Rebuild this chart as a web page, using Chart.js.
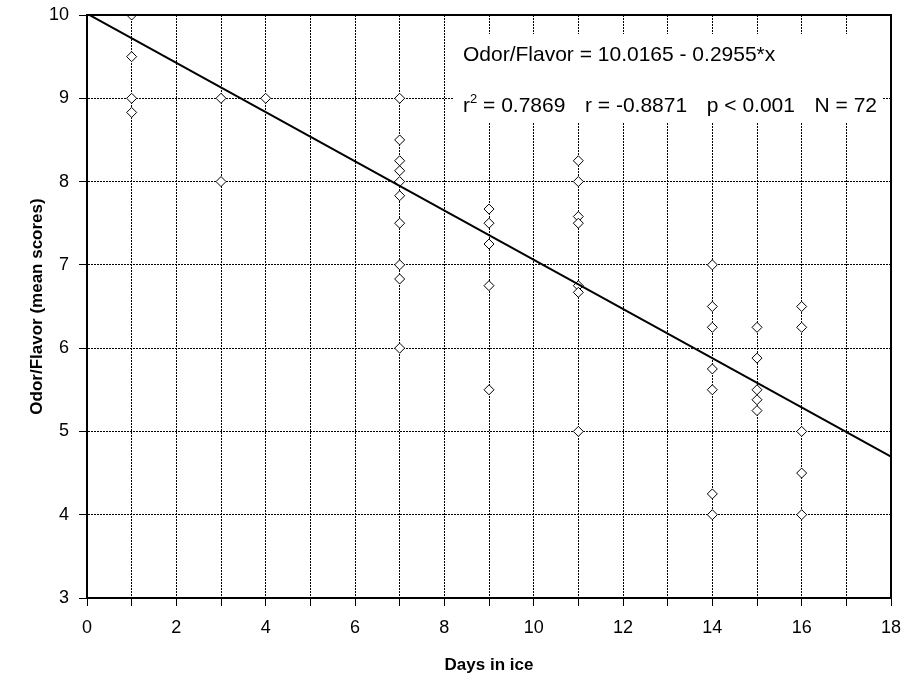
<!DOCTYPE html>
<html>
<head>
<meta charset="utf-8">
<script src="https://cdn.jsdelivr.net/npm/chart.js@4"></script>
<style>
  html, body { margin: 0; padding: 0; background: #fff; }
  #wrap { width: 904px; height: 677px; }
</style>
</head>
<body>
<div id="wrap"><canvas id="odor-chart" width="904" height="677"></canvas></div>
<script>
// scores, one entry per visible diamond
const days   = [1, 1, 1, 1,
                3, 3,
                4,
                7, 7, 7, 7, 7, 7, 7, 7, 7, 7,
                9, 9, 9, 9, 9,
                11, 11, 11, 11, 11, 11, 11,
                14, 14, 14, 14, 14, 14, 14,
                15, 15, 15, 15, 15,
                16, 16, 16, 16, 16];
const scores = [10, 9.5, 9, 8.83,
                9, 8,
                9,
                9, 8.5, 8.25, 8.13, 8, 7.83, 7.5, 7, 6.83, 6,
                7.67, 7.5, 7.25, 6.75, 5.5,
                8.25, 8, 7.58, 7.5, 6.75, 6.67, 5,
                7, 6.5, 6.25, 5.75, 5.5, 4.25, 4,
                6.25, 5.88, 5.5, 5.38, 5.25,
                6.5, 6.25, 5, 4.5, 4];

// regression line end points (x = 0 and x = 18)
const fitDays = [0, 18];
const fitScores = [10.0165, 4.6975];

const equationText = 'Odor/Flavor = 10.0165 - 0.2955*x';
const statTexts = ['= 0.7869', 'r = -0.8871', 'p < 0.001', 'N = 72'];

const FONT = '"Liberation Sans", Arial, Helvetica, sans-serif';

const frame = {
    id: 'frame',
    afterDatasetsDraw(chart) {
        const { ctx, chartArea: a } = chart;
        ctx.save();
        ctx.strokeStyle = '#000';
        ctx.lineWidth = 2;
        ctx.beginPath();
        ctx.moveTo(a.left, a.top);
        ctx.lineTo(a.right, a.top);
        ctx.lineTo(a.right, a.bottom);
        ctx.stroke();
        ctx.restore();
    }
};

const statsBox = {
    id: 'statsBox',
    beforeDatasetsDraw(chart) {
        const ctx = chart.ctx;
        const x0 = 463, x1 = 877;
        ctx.save();
        ctx.fillStyle = '#fff';
        ctx.fillRect(453, 34, 429, 88);
        ctx.fillStyle = '#000';
        ctx.textBaseline = 'middle';
        ctx.font = '21px ' + FONT;
        ctx.fillText(equationText, x0, 55);
        // r squared with a small raised 2, then the other stats spread evenly
        const rw = ctx.measureText('r').width;
        ctx.font = '13px ' + FONT;
        const sw = ctx.measureText('2').width;
        ctx.font = '21px ' + FONT;
        const first = ' ' + statTexts[0];
        const widths = [rw + sw + ctx.measureText(first).width]
            .concat(statTexts.slice(1).map(t => ctx.measureText(t).width));
        const gap = (x1 - x0 - widths.reduce((a, b) => a + b, 0)) / (widths.length - 1);
        ctx.fillText('r', x0, 106);
        ctx.font = '13px ' + FONT;
        ctx.fillText('2', x0 + rw, 99);
        ctx.font = '21px ' + FONT;
        ctx.fillText(first, x0 + rw + sw, 106);
        let x = x0 + widths[0] + gap;
        statTexts.slice(1).forEach((t, i) => {
            ctx.fillText(t, x, 106);
            x += widths[i + 1] + gap;
        });
        ctx.restore();
    }
};

const gridStyle = {
    color: '#000',
    lineWidth: 1,
    tickLength: 8,
    tickBorderDash: [],
    tickColor: '#000'
};

new Chart(document.getElementById('odor-chart'), {
    type: 'scatter',
    data: {
        datasets: [
            {
                type: 'line',
                label: 'fit',
                data: fitDays.map((d, i) => ({ x: d, y: fitScores[i] })),
                borderColor: '#000',
                borderWidth: 2,
                pointRadius: 0,
                fill: false
            },
            {
                label: 'scores',
                data: days.map((d, i) => ({ x: d, y: scores[i] })),
                pointStyle: 'rectRot',
                pointRadius: 5,
                backgroundColor: '#fff',
                borderColor: '#000',
                borderWidth: 1,
                clip: { top: 0, left: 8, right: 8, bottom: 8 }
            }
        ]
    },
    options: {
        responsive: false,
        animation: false,
        layout: { padding: { top: 15, right: 13, left: 0, bottom: 0 } },
        plugins: { legend: { display: false }, tooltip: { enabled: false } },
        scales: {
            x: {
                type: 'linear',
                min: 0, max: 18,
                afterFit: (s) => { s.height = 79; s.paddingLeft = 0; s.paddingRight = 0; },
                ticks: {
                    stepSize: 1,
                    autoSkip: false,
                    maxRotation: 0,
                    padding: 11,
                    color: '#000',
                    font: { family: FONT, size: 18 },
                    callback: (v) => (v % 2 === 0 ? v : '')
                },
                grid: gridStyle,
                border: { color: '#000', width: 2, dash: [2, 1] },
                title: {
                    display: true,
                    text: 'Days in ice',
                    color: '#000',
                    font: { family: FONT, size: 17, weight: 'bold' },
                    padding: { top: 0, bottom: 1 }
                }
            },
            y: {
                min: 3, max: 10,
                afterFit: (s) => { s.width = 87; s.paddingTop = 0; s.paddingBottom = 0; },
                ticks: {
                    stepSize: 1,
                    padding: 10,
                    color: '#000',
                    font: { family: FONT, size: 18 }
                },
                grid: gridStyle,
                border: { color: '#000', width: 2, dash: [2, 1] },
                title: {
                    display: true,
                    text: 'Odor/Flavor (mean scores)',
                    color: '#000',
                    font: { family: FONT, size: 17, weight: 'bold' },
                    padding: { top: 27, bottom: 0 }
                }
            }
        }
    },
    plugins: [statsBox, frame]
});
</script>
</body>
</html>
